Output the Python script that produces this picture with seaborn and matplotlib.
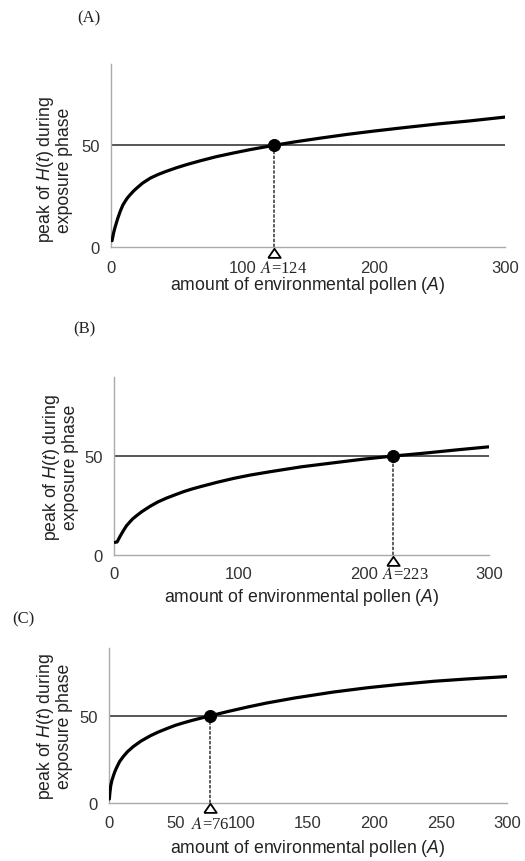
import numpy as np
import pandas as pd
import matplotlib
matplotlib.use("Agg")
import matplotlib.pyplot as plt
import seaborn as sns

# ---- data ----
A_pollen_a = [0.8, 2, 3, 5, 7, 9, 11.9, 14, 17, 20, 24, 30, 36, 42, 50, 58, 68, 80, 93,
              106, 118, 124, 140, 160, 180, 200, 223, 250, 273, 300]
H_peak_a = [3.1, 7.0, 9.5, 13.8, 17.5, 20.6, 23.6, 25.3, 27.4, 29.2, 31.4, 33.9, 35.7, 37.2,
            39.0, 40.6, 42.4, 44.4, 46.2, 47.9, 49.3, 50.0, 51.7, 53.6, 55.4, 57.0, 58.7,
            60.6, 62.0, 63.9]

A_pollen_b = [0.8, 2.5, 4.8, 7.5, 10, 12.8, 15, 18.1, 22, 28.8, 35, 42.1, 50, 55.5, 62, 68.8, 82.1,
              95.5, 108.8, 124.8, 150, 178, 200, 223, 250, 275, 300]
H_peak_b = [6.4, 6.6, 9.4, 12.3, 14.8, 16.8, 18.3, 19.9, 21.8, 24.6, 26.8, 28.8, 30.7, 32.0, 33.3,
            34.5, 36.7, 38.7, 40.4, 42.1, 44.6, 46.8, 48.5, 50.0, 51.6, 53.2, 54.7]

A_pollen_c = [0.25, 0.7, 1.3, 2.2, 3.3, 4.5, 5.8, 8, 10.8, 14, 18.3, 24, 30.9, 37, 43.5, 50, 56, 62,
              68.6, 76, 90, 105, 118.8, 140, 169, 195, 219, 245, 269.5, 300]
H_peak_c = [2.3, 6.0, 9.9, 13.0, 15.6, 18.2, 20.4, 23.8, 26.7, 29.5, 32.4, 35.5, 38.5, 40.7, 42.7,
            44.6, 46.0, 47.3, 48.6, 50.0, 52.6, 55.2, 57.4, 60.3, 63.7, 66.2, 68.1, 69.9, 71.2, 72.6]

threshold = 50
crossing = [124, 223, 76]
panel_labels = ["(A)", "(B)", "(C)"]
xticks_ab = [0, 100, 200, 300]
xticks_c = [0, 50, 100, 150, 200, 250, 300]
yticks = [0, 50]

xlabel = "amount of environmental pollen ($A$)"
ylabel = "peak of $H$($t$) during\nexposure phase"

sns.set_style("white")
plt.rcParams["font.family"] = ["Liberation Sans", "DejaVu Sans"]
plt.rcParams["mathtext.fontset"] = "custom"
plt.rcParams["mathtext.rm"] = "Liberation Sans"
plt.rcParams["mathtext.it"] = "Liberation Sans:italic"

fig = plt.figure(figsize=(5.25, 8.62), dpi=100)

W, H = 525.0, 862.0
# (left, right, bottom, top) in pixels
boxes = [(111, 505, 248, 65), (114, 489, 556, 378), (109, 507, 804, 649)]
ytops = [90, 90, 89]
xtick_sets = [xticks_ab, xticks_ab, xticks_c]
curves = [(A_pollen_a, H_peak_a), (A_pollen_b, H_peak_b), (A_pollen_c, H_peak_c)]
ylab_coords = [(-0.145, 0.426), (-0.144, 0.497), (-0.138, 0.50)]
xlab_y = [-0.207, -0.232, -0.286]
xtick_pad = [9.4, 8.0, 9.0]
ann_offsets = [(7, -15), (9, -14), (0, -15)]
panel_pos = [(89, 18), (84, 329), (23.5, 619)]

tri = [(-1, -0.7), (1, -0.7), (0, 0.75), (-1, -0.7)]

for i in range(3):
    l, r, b, t = boxes[i]
    ax = fig.add_axes([l / W, (H - b) / H, (r - l) / W, (b - t) / H])
    xs, ys = curves[i]
    df = pd.DataFrame({"A": xs, "H": ys})
    ax.plot([0, 300], [threshold, threshold], color="#3a3a3a", lw=1.2, zorder=2)
    sns.lineplot(data=df, x="A", y="H", ax=ax, color="black", lw=2.3, zorder=3, sort=False)
    a0 = crossing[i]
    ax.plot([a0, a0], [0, threshold], color="#333333", lw=1.1, ls=(0, (2.2, 1.0)), zorder=2)
    sns.scatterplot(x=[a0], y=[threshold], ax=ax, color="black", s=75, edgecolor="black",
                    zorder=4)
    ax.plot([a0], [-3], marker=tri, markersize=9, markerfacecolor="white",
            markeredgecolor="black", markeredgewidth=1.3, ls="none", clip_on=False, zorder=5)
    ax.annotate(f"$A$={a0}", xy=(a0, 0), xytext=ann_offsets[i], textcoords="offset points",
                ha="center", va="center", fontsize=12, family="Liberation Serif",
                math_fontfamily="stix", color="#222222")

    ax.set_xlim(0, 300)
    ax.set_ylim(0, ytops[i])
    ax.set_xticks(xtick_sets[i])
    ax.set_yticks(yticks)
    ax.tick_params(axis="x", length=0, pad=xtick_pad[i], labelsize=12, labelcolor="#333333")
    ax.tick_params(axis="y", length=0, pad=8, labelsize=12, labelcolor="#333333")
    for s in ["top", "right"]:
        ax.spines[s].set_visible(False)
    for s in ["left", "bottom"]:
        ax.spines[s].set_color("#aaaaaa")
        ax.spines[s].set_linewidth(1.0)
    ax.set_xlabel(xlabel, fontsize=12.7, color="#222222", va="center")
    ax.xaxis.set_label_coords(0.5, xlab_y[i])
    ax.set_ylabel(ylabel, fontsize=12.7, color="#222222", va="center", linespacing=1.0)
    ax.yaxis.set_label_coords(*ylab_coords[i])

    px, py = panel_pos[i]
    fig.text(px / W, 1 - py / H, panel_labels[i], ha="center", va="center",
             fontsize=12, family="Liberation Serif", color="#222222")

fig.savefig("out.png", dpi=100, facecolor="white")
